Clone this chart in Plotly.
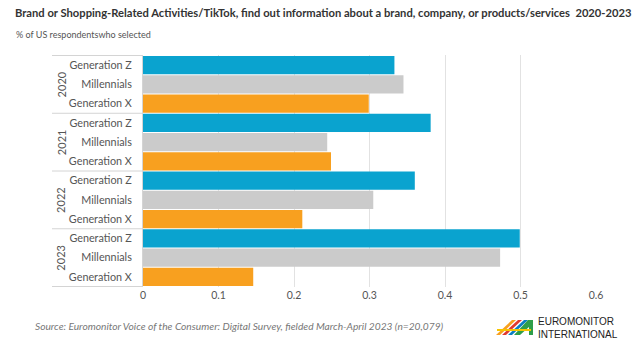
import plotly.graph_objects as go

years = ["2020", "2021", "2022", "2023"]
generations = ["Generation Z", "Millennials", "Generation X"]
gen_z = [0.333, 0.381, 0.360, 0.499]
millennials = [0.345, 0.244, 0.305, 0.473]
gen_x = [0.299, 0.249, 0.211, 0.146]
x_ticks = [0, 0.1, 0.2, 0.3, 0.4, 0.5, 0.6]
colors = {"Generation Z": "#0aa3cf", "Millennials": "#cbcbcb", "Generation X": "#f8a01f"}

series = {"Generation Z": gen_z, "Millennials": millennials, "Generation X": gen_x}

cats = [f"{y} {g}" for y in years for g in generations]
ticktext = [g for y in years for g in generations]

W, H = 640, 353
L, R, T, B = 143, 44, 55, 66
pw, ph = W - L - R, H - T - B
FONT = "Lato"


def px(x):
    return (x - L) / pw


def py(y):
    return (H - B - y) / ph


fig = go.Figure()
for g in generations:
    fig.add_trace(go.Bar(
        x=series[g], y=[f"{y} {g}" for y in years], orientation="h",
        marker=dict(color=colors[g], line=dict(width=0)), name=g,
        showlegend=False, hoverinfo="x+y",
    ))

shapes = []
n = len(generations)
for i in range(len(years) + 1):
    yb = i * n - 0.5
    shapes.append(dict(type="line", xref="paper", yref="y", x0=px(52), x1=px(142),
                       y0=yb, y1=yb, line=dict(color="#d4d4d4", width=1)))

annotations = []
for i, y in enumerate(years):
    annotations.append(dict(text=y, xref="paper", yref="y", x=px(61), y=cats[i * n + 1],
                            textangle=-90, showarrow=False, xanchor="center", yanchor="middle",
                            font=dict(size=11, color="#555555", family=FONT)))

annotations += [
    dict(text="<b>Brand or Shopping-Related Activities/TikTok, find out information about a brand, company, or products/services  2020-2023</b>",
         xref="paper", yref="paper", x=px(13), y=py(13), xanchor="left", yanchor="middle",
         showarrow=False, font=dict(size=11.2, color="#333333", family=FONT)),
    dict(text="% of US respondentswho selected", xref="paper", yref="paper", x=px(14), y=py(34),
         xanchor="left", yanchor="middle", showarrow=False,
         font=dict(size=9, color="#555555", family=FONT)),
    dict(text="<i>Source: Euromonitor Voice of the Consumer: Digital Survey, fielded March-April 2023 (n=20,079)</i>",
         xref="paper", yref="paper", x=px(33), y=py(326), xanchor="left", yanchor="middle",
         showarrow=False, font=dict(size=10.2, color="#777777", family=FONT)),
    dict(text="EUROMONITOR<br>INTERNATIONAL", xref="paper", yref="paper", x=px(536), y=py(328),
         xanchor="left", yanchor="middle", align="left", showarrow=False,
         font=dict(size=10, color="#222222", family="Liberation Sans")),
]

# simple logo stripes
logo = [
    ("#f8a01f", [(496, 335), (512, 320), (516, 320), (500, 335)]),
    ("#e03a2f", [(502, 335), (518, 320), (522, 320), (506, 335)]),
    ("#0a7fc2", [(508, 335), (524, 320), (528, 320), (512, 335)]),
    ("#2e9e4a", [(514, 335), (528, 320), (533, 320), (533, 335), (529, 335), (529, 327), (520, 335)]),
    ("#f6c400", [(497, 329), (531, 329), (531, 331), (497, 331)]),
]
for c, pts in logo:
    path = "M " + " L ".join(f"{px(a):.5f},{py(b):.5f}" for a, b in pts) + " Z"
    shapes.append(dict(type="path", xref="paper", yref="paper", path=path,
                       fillcolor=c, line=dict(width=0)))

fig.update_layout(
    width=W, height=H, margin=dict(l=L, r=R, t=T, b=B),
    paper_bgcolor="white", plot_bgcolor="white",
    barmode="overlay", bargap=0.04,
    shapes=shapes, annotations=annotations,
    font=dict(family=FONT, size=10, color="#555555"),
    xaxis=dict(range=[0, 0.6], tickvals=x_ticks, ticktext=[f"{v:g}" for v in x_ticks],
               showgrid=True, gridcolor="#e2e2e2", gridwidth=1, zeroline=False,
               showline=False, ticks="", tickfont=dict(size=10.5, color="#555555")),
    yaxis=dict(type="category", categoryorder="array", categoryarray=cats,
               autorange="reversed", tickmode="array", tickvals=cats, ticktext=ticktext,
               showgrid=False, showline=True, linecolor="#d4d4d4", linewidth=1,
               ticks="", ticklabelstandoff=8, tickfont=dict(size=10.8, color="#555555")),
)

fig.write_html("out.html")
